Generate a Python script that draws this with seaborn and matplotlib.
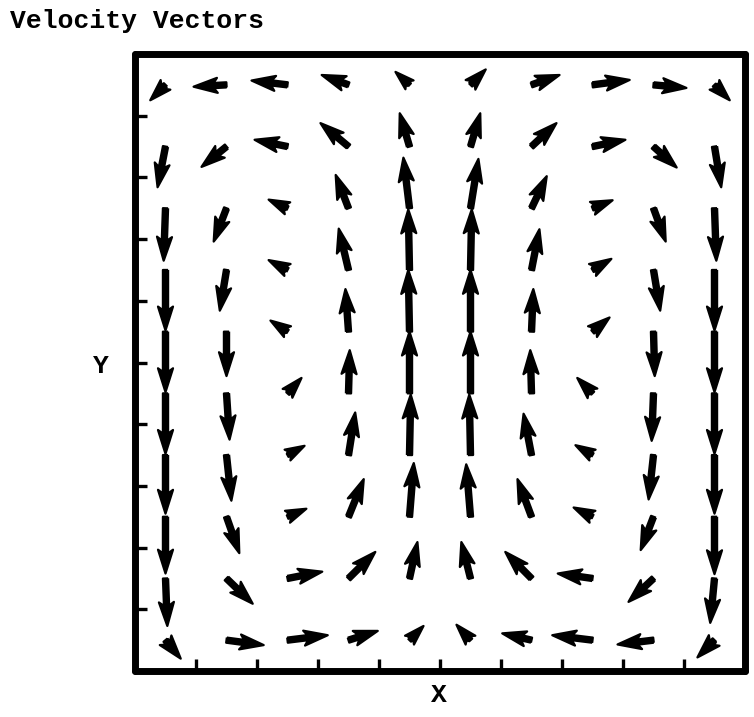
import numpy as np
import matplotlib
matplotlib.use("Agg")
import matplotlib.pyplot as plt
import seaborn as sns

# Velocity components on a 10 x 10 grid of cell centres, in grid units.
# Rows run from the top of the box (y = 9.5) down to the bottom (y = 0.5).
x_centres = [0.5, 1.5, 2.5, 3.5, 4.5, 5.5, 6.5, 7.5, 8.5, 9.5]
y_centres = [9.5, 8.5, 7.5, 6.5, 5.5, 4.5, 3.5, 2.5, 1.5, 0.5]

u_rows = [
    [-0.25, -0.54, -0.59, -0.44, -0.23, 0.25, 0.46, 0.61, 0.54, 0.25],
    [-0.13, -0.41, -0.54, -0.46, -0.16, 0.16, 0.41, 0.54, 0.38, 0.11],
    [-0.03, -0.21, -0.31, -0.21, -0.10, 0.13, 0.25, 0.33, 0.20, 0.03],
    [0.00, -0.11, -0.31, -0.16, -0.02, 0.02, 0.13, 0.31, 0.11, 0.00],
    [0.00, 0.00, -0.28, -0.05, -0.02, 0.00, 0.03, 0.28, 0.02, 0.00],
    [0.00, 0.05, 0.23, 0.02, 0.00, 0.00, -0.02, -0.25, -0.03, 0.00],
    [0.00, 0.08, 0.28, 0.11, 0.02, -0.02, -0.13, -0.28, -0.08, 0.00],
    [0.00, 0.21, 0.31, 0.25, 0.07, -0.07, -0.23, -0.31, -0.21, 0.00],
    [0.03, 0.43, 0.57, 0.44, 0.13, -0.15, -0.43, -0.57, -0.41, -0.07],
    [0.25, 0.61, 0.66, 0.48, 0.23, -0.23, -0.48, -0.66, -0.59, -0.28],
]

v_rows = [
    [-0.25, -0.03, 0.07, 0.16, 0.21, 0.25, 0.16, 0.08, -0.05, -0.25],
    [-0.66, -0.33, 0.11, 0.38, 0.54, 0.54, 0.38, 0.11, -0.34, -0.66],
    [-0.85, -0.54, 0.14, 0.54, 0.82, 0.80, 0.52, 0.13, -0.54, -0.85],
    [-0.98, -0.66, 0.16, 0.67, 0.98, 0.98, 0.66, 0.18, -0.66, -0.98],
    [-0.98, -0.72, 0.18, 0.69, 1.00, 1.00, 0.69, 0.23, -0.72, -0.98],
    [-0.98, -0.75, 0.25, 0.70, 1.00, 1.00, 0.70, 0.25, -0.77, -0.98],
    [-0.95, -0.74, 0.15, 0.69, 0.98, 0.98, 0.67, 0.16, -0.72, -0.95],
    [-0.92, -0.59, 0.13, 0.61, 0.87, 0.85, 0.61, 0.15, -0.54, -0.93],
    [-0.77, -0.41, 0.11, 0.43, 0.59, 0.59, 0.43, 0.08, -0.38, -0.72],
    [-0.30, -0.08, 0.08, 0.15, 0.23, 0.25, 0.11, 0.08, -0.07, -0.28],
]

tick_positions = [1, 2, 3, 4, 5, 6, 7, 8, 9]

sns.set_theme(style="white")
plt.rcParams["font.family"] = ["Liberation Mono", "DejaVu Sans Mono"]

W, H = 754, 717
fig = plt.figure(figsize=(W / 100, H / 100), dpi=100)
fig.patch.set_facecolor("white")

left, right, top, bottom = 135, 745, 54, 671
ax = fig.add_axes([left / W, 1 - bottom / H, (right - left) / W, (bottom - top) / H])
ax.set_facecolor("white")

X, Y = np.meshgrid(x_centres, y_centres)
U = np.array(u_rows)
V = np.array(v_rows)

# Thick, rounded arrows with swollen heads
ax.quiver(X, Y, U, V, angles="xy", scale_units="xy", scale=1, pivot="tail",
          width=0.0085, headwidth=2.9, headlength=4.6, headaxislength=3.9,
          color="black", edgecolor="black", linewidth=1.6, joinstyle="round")

ax.set_xlim(0, 10)
ax.set_ylim(0, 10)
ax.set_xticks(tick_positions)
ax.set_yticks(tick_positions)
ax.set_xticklabels([])
ax.set_yticklabels([])
ax.tick_params(axis="both", which="major", direction="in", length=8.5, width=2.4,
               color="black", bottom=True, left=True, top=False, right=False)
for spine in ax.spines.values():
    spine.set_visible(True)
    spine.set_color("black")
    spine.set_linewidth(5.0)
    spine.set_capstyle("round")

txt = dict(fontsize=19, fontweight="bold", color="black")
fig.text(10 / W, 1 - 9 / H, "Velocity Vectors", ha="left", va="top", **txt)
fig.text(101 / W, 1 - 366 / H, "Y", ha="center", va="center", **txt)
fig.text(439 / W, 1 - 695 / H, "X", ha="center", va="center", **txt)

fig.savefig("out.png", dpi=100, facecolor="white")
